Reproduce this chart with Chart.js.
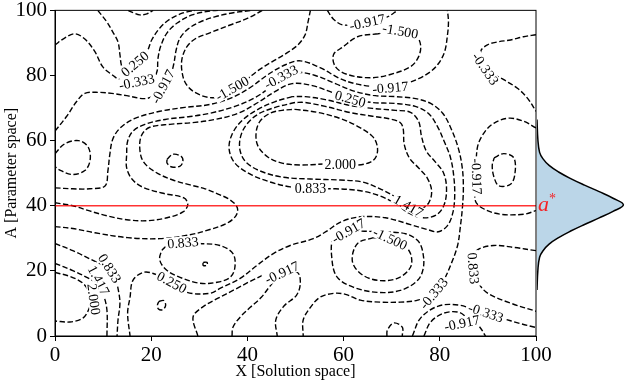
<!DOCTYPE html>
<html>
<head>
<meta charset="utf-8">
<script src="https://cdn.jsdelivr.net/npm/chart.js@4.4.1/dist/chart.umd.min.js"></script>
<style>
  html, body { margin: 0; padding: 0; background: #fff; }
  #wrap { position: relative; width: 626px; height: 382px; }
  #main { position: absolute; left: 0; top: 0; }
  #side { position: absolute; left: 537px; top: 0; }
</style>
</head>
<body>
<div id="wrap">
  <canvas id="main" width="626" height="382"></canvas>
  <canvas id="side" width="89" height="382"></canvas>
</div>
<script>
// contour lines, [X, A] pairs
const c1 = [[8.9,100],[10.8,96.4],[12.0,93.4],[13.1,90.3],[13.5,86.4],[13.9,82.7],[14.9,80.6],[16.6,83.6],[19.1,87.3],[20.1,90.9],[21.8,94.6],[23.9,97.3],[26.6,99.2],[29.1,100]];
const c2 = [[15.2,100],[16.4,99.2],[17.6,98.6],[19.1,98.9],[20.4,100]];
const c3 = [[0,89.4],[2.0,91.5],[4.1,92.8],[6.2,91.2],[8.3,87.3],[9.9,82.7],[11.8,80.3],[13.5,78.7],[17.0,78.1],[20.1,78.7],[21.2,81.2],[21.4,85.1],[22.0,89.1],[23.3,93.1],[25.4,96.1],[28.5,98.6],[32.2,99.8],[33.9,100]];
const c4 = [[0,62.9],[2.4,67.4],[4.5,72.0],[6.2,74.5],[9.3,74.8],[11.8,74.5],[14.9,73.8],[18.9,72.9],[21.2,74.5],[22.4,76.6],[23.9,79.6],[24.7,83.6],[25.2,87.9],[26.0,91.5],[27.7,94.3],[30.1,96.4],[33.2,98.0],[36.8,99.2],[41.0,100]];
const c5 = [[43.1,100],[40.1,97.6],[36.4,95.5],[32.2,93.1],[29.1,91.2],[27.4,88.8],[26.4,85.1],[26.4,81.2],[27.2,77.5],[29.1,74.8],[32.2,73.2],[34.7,73.8],[36.8,76.0],[39.5,78.4],[42.2,81.5],[45.1,84.2],[48.3,87.0],[50.5,89.4],[52.0,92.5],[52.6,96.4],[53.1,100]];
const c6 = [[56.6,100],[57.9,97.3],[59.9,95.5],[64.9,96.1],[69.1,98.0],[71.2,100]];
const c7 = [[67.2,92.8],[62.9,91.9],[59.9,88.8],[57.9,86.4],[58.3,82.7],[60.8,80.3],[65.6,79.3],[69.7,80.3],[73.9,82.7],[75.6,85.8],[76.0,89.4],[74.9,92.5],[71.8,94.0],[68.7,93.4],[67.2,92.8]];
const c9 = [[100,92.5],[97.4,91.9],[94.7,90.9],[92,90.3],[89.9,89.4],[88.5,87.3],[89.5,82.1],[93.3,78.7],[96.2,76],[98.3,72.9],[100,69]];
const c10 = [[100,63.9],[97.5,65.9],[94.4,66.9],[91.3,65.4],[89.2,62.4],[87.8,57.8],[87.6,49],[87.4,41.5],[89.2,39],[92.6,37.4],[97.5,37.4],[100,38.5]];
const c11 = [[91.3,54.7],[93.3,56],[95.4,54.7],[95.6,49.6],[94.7,46.6],[92.3,46.1],[91.3,48.6],[90.9,52.2],[91.3,54.7]];
const c12 = [[49.9,69.6],[54.5,68.7],[59.3,66.8],[62.9,64.4],[66.0,61.3],[67.0,58.3],[66.8,55.2],[65.6,53.4],[62.9,52.5],[59.3,52.8],[55.8,52.8],[51.0,52.5],[47.2,53.1],[44.3,54.9],[42.2,58.3],[41.8,62.3],[42.6,65.9],[44.7,68.4],[47.2,69.3],[49.9,69.6]];
const c13 = [[49.9,71.7],[45.8,70.2],[42.2,68.1],[39.7,64.7],[38.5,60.7],[38.5,56.8],[39.7,53.4],[42.6,50.7],[47.2,48.8],[53.1,48.2],[59.3,47.9],[63.9,47.3],[67.6,45.2],[70.8,42.7],[73.5,40.0],[76.0,39.1],[77.7,40.9],[78.3,44.6],[77.4,48.5],[75.6,51.6],[73.7,54.6],[72.6,58.9],[72.4,63.5],[71.8,65.5],[69.8,66.6],[66.0,67.5],[61.4,68.6],[56.2,70.5],[52.0,71.7],[49.9,71.7]];
const c14 = [[49.3,73.5],[45.8,72.0],[42.2,69.6],[38.9,66.2],[36.8,61.9],[36.2,57.4],[37.4,53.1],[40.6,49.7],[44.7,47.3],[48.9,45.8],[53.1,45.2],[58.3,45.2],[63.5,44.6],[67.6,43.0],[70.8,40.6],[73.5,37.8],[76.4,36.3],[79.3,37.2],[80.9,40.3],[81.4,45.2],[80.8,50.0],[79.1,53.4],[77.2,56.8],[76.2,61.3],[75.6,65.9],[73.9,68.7],[70.8,69.3],[66.0,69.9],[61.4,70.8],[56.2,72.6],[52.0,73.5],[49.3,73.5]];
const b1 = [[0,45.5],[3.7,45.2],[7.2,45.2],[10.4,46.1],[11.0,50.7],[11.4,55.8],[12.0,60.4],[13.5,63.8],[16.6,66.8],[21.8,69.0],[27.0,70.2],[32.2,71.1],[36.8,73.2],[40.6,76.3],[44.3,80.3],[47.9,83.3],[51.0,84.5],[55.1,82.4],[59.3,79.0],[62.4,77.5],[66.0,76.6],[69.7,76.3],[72.9,77.5],[75.6,79.0],[78.1,81.2],[79.7,83.6],[81.0,87.3],[81.6,92.5],[81.8,96.4],[81.6,100]];
const b2 = [[0,40.9],[3.7,40.0],[7.2,38.4],[10.8,36.9],[14.9,35.7],[19.1,35.4],[23.3,36.3],[26.6,38.1],[27.6,40.3],[26.8,42.4],[22.2,43.9],[18.1,45.8],[16.0,48.2],[14.9,51.6],[14.9,55.8],[15.1,59.8],[16.2,62.9],[18.7,65.0],[22.9,66.5],[28.1,67.4],[32.2,68.4],[37.4,70.5],[41.6,73.2],[44.7,76.3],[47.4,79.0],[50.4,80.9],[54.1,80.0],[58.3,77.5],[62.4,75.1],[66.6,73.8],[70.8,73.5],[75.0,72.9],[78.1,71.4],[80.6,68.4],[82.4,63.5],[83.9,57.4],[84.7,51.3],[84.9,45.2],[84.7,39.4],[84.3,33.9],[83.7,27.8],[82.4,22.3],[80.8,17.1],[78.7,13.1],[75.4,11.0],[71.8,10.4],[67.6,10.4],[63.5,11.0],[60.4,12.8],[57.9,13.1],[55.1,11.9],[53.1,8.8],[51.6,4.9],[51.6,0]];
const b3 = [[0,33.6],[3.7,33.0],[8.3,31.7],[15.1,30.2],[21.8,29.9],[28.1,31.1],[32.2,32.7],[35.6,34.5],[37.6,36.9],[37.9,39.4],[36.4,41.8],[33.9,43.6],[31.2,45.2],[28.1,46.4],[24.5,47.9],[20.8,50.4],[18.3,53.7],[17.6,58.3],[18.1,61.9],[19.7,64.1],[23.9,65.0],[29.1,65.6],[33.3,66.5],[38.1,68.4],[42.2,71.7],[45.8,75.1],[49.3,77.5],[53.5,76.9],[57.6,74.8],[61.4,72.9],[66.0,71.7],[70.8,71.4],[74.9,70.5],[77.6,68.4],[79.5,64.4],[80.9,59.8],[82.2,54.9],[82.9,49.1],[83.1,43.0],[82.7,37.8],[81.6,33.9],[79.7,32.0],[77.4,32.7],[73.9,34.2],[68.7,36.3],[63.5,36.6],[59.5,35.1],[56.6,32.3],[53.7,29.9],[48.9,27.8],[45.4,25.3],[42,21.7],[38.5,17.7],[34.3,14.6],[32.2,13.1],[27.4,13.4],[24.3,16.5],[20.4,19.2],[18.3,19.5],[16.2,17.1],[15.6,11.9],[15.1,7],[15.6,0]];
const c17 = [[23.3,27.8],[26.6,28.7],[30.1,28.4],[34.3,27.8],[37,25.3],[37.4,21.1],[36.4,18],[33.7,16.5],[30.1,16.2],[26,18],[23.3,20.1],[21.8,23.2],[22.2,26.2],[23.3,27.8]];
const c18 = [[30.8,22.6],[31.6,22.6],[31.6,21.7],[30.8,21.7],[30.8,22.6]];
const c20 = [[0,28.4],[3.7,26.2],[7.9,23.2],[11,20.8],[12.4,18.5],[13.1,14.6],[13.5,10.1],[13.1,4.9],[12.9,0]];
const c21 = [[0,22.3],[3.7,20.1],[6.6,18.0],[8.9,15.9],[10.1,12.5],[10.8,7.9],[10.8,0]];
const c22 = [[0,19.5],[3.1,18.3],[5.8,16.2],[7.2,13.1],[7.4,11.0],[7.2,8.8],[5.8,5.5],[3.1,4.3],[0,4.6]];
const c23 = [[66.2,30.2],[62.9,28.4],[61.8,23.2],[63.5,19.2],[67,17.1],[71.2,17.7],[73.9,21.1],[73.9,25.3],[71.8,29],[69.7,29.9],[66.2,30.2]];
const c24 = [[61,32.3],[57.9,30.2],[57.6,23.2],[58.7,18],[62,15],[67,13.4],[71.8,14],[75.4,17.1],[76.6,21.1],[76.4,26.2],[75.4,29.3],[72.9,31.4],[67.6,32],[61,32.3]];
const c26 = [[100,26.2],[95.4,27.2],[91.2,27.8],[87.9,26.5],[86.8,23.8],[87.0,20.1],[87.9,16.5],[90.0,13.1],[94.7,10.1],[100,7.6]];
const c27 = [[0,56],[2,59],[4.9,60],[6.9,58],[7.3,54],[6.2,50.8],[3.5,49.6],[0.7,51.2],[0,52]];
const c29 = [[23.3,54.3],[24.5,55.8],[26.2,55.2],[26.6,53.7],[26.0,52.2],[24.3,51.9],[23.3,53.1],[23.3,54.3]];
const c30 = [[36.8,0],[37.0,2.7],[38.5,5.8],[40.6,8.8],[42.9,11.9],[44.7,15.3],[47.2,19.5],[50.4,19.5],[51.0,16.2],[50.2,12.5],[47.6,9.2],[45.9,4.9],[46.2,0]];
const c31 = [[76.7,0],[78.1,4.3],[80.8,7.0],[83.9,7.3],[85.8,5.5],[88.1,3.1],[89.5,0]];
const c32 = [[74.3,0],[76.0,5.5],[79.7,9.2],[83.9,9.5],[88.1,7.6],[92.6,5.6],[96.8,3.8],[100,2.6]];
const c33 = [[69,0],[69.1,1.8],[70.4,4.0],[72.2,2.7],[72.2,0]];
const c34 = [[21.6,10.6],[22.6,10.9],[23.0,9.4],[22.4,8.1],[21.5,8.3],[21.3,9.5],[21.6,10.6]];
const c36 = [[29.7,0],[28.7,5.8],[30.6,8.8],[33.9,11.6],[37.4,14.3],[40.6,16.8],[43.1,18.6]];

// inline contour labels
const labelText = ['0.250','-0.333','-0.917','-1.500','-0.333','-0.917','-1.500','-0.917','0.250','-0.333','2.000','0.833','1.417','-0.917','0.833','0.250','0.833','1.417','2.000','-0.917','-1.500','-0.917','0.833','-0.333','-0.333','-0.917'];
const labelX = [16.6,17.0,22.4,36.8,47.0,64.9,71.8,69.7,61.4,89.5,59.3,53.1,73.5,87.7,26.6,24.3,11.4,9.1,8.1,61.0,69.7,47.2,87.0,78.7,89.6,84.6];
const labelY = [83.6,78.1,76.6,76.0,79.6,96.4,93.7,76.3,72.9,82.1,52.8,45.2,40.0,49.0,28.7,16.5,20.8,17.1,11.3,32.3,29.9,19.5,20.8,13.1,7.2,4.0];
const labelAngle = [-40,-12,-62,-30,-28,-12,10,-5,15,55,0,0,30,88,-5,28,58,62,82,-30,25,-25,85,-50,18,-12];

// the a* reference line and the marginal density
const refA = 40;
const densA = [14, 20, 24, 26, 28, 30, 32, 34, 36, 38, 40, 42, 44, 46, 48, 50, 52, 54, 56, 60, 66];
const densW = [0, 0.01, 0.03, 0.07, 0.14, 0.25, 0.39, 0.55, 0.72, 0.88, 1.0, 0.88, 0.72, 0.55, 0.39, 0.25, 0.14, 0.07, 0.03, 0.01, 0];

const contours = [c1,c2,c3,c4,c5,c6,c7,c9,c10,c11,c12,c13,c14,b1,b2,b3,c17,c18,c20,c21,c22,c23,c24,c26,c27,c29,c30,c31,c32,c33,c34,c36];
const serif = '"Liberation Serif", "DejaVu Serif", serif';

const datasets = contours.map(c => ({
  data: c.map(p => ({x: p[0], y: p[1]})),
  showLine: true,
  pointRadius: 0,
  borderColor: '#000',
  borderWidth: 1.4,
  borderDash: [5.5, 2.5],
  tension: 0.35,
  order: 1
}));
datasets.push({
  data: [{x: 0, y: refA}, {x: 100, y: refA}],
  showLine: true,
  pointRadius: 0,
  borderColor: 'rgba(255,0,0,0.8)',
  borderWidth: 1.5,
  order: 0
});
const refIndex = datasets.length - 1;

const decor = {
  id: 'decor',
  beforeDatasetDraw(chart, args) {
    if (args.index !== refIndex) return;
    const {ctx, scales: {x, y}} = chart;
    ctx.save();
    ctx.font = '14px ' + serif;
    ctx.textAlign = 'center';
    ctx.textBaseline = 'middle';
    labelText.forEach((t, i) => {
      ctx.save();
      ctx.translate(x.getPixelForValue(labelX[i]), y.getPixelForValue(labelY[i]));
      ctx.rotate(labelAngle[i] * Math.PI / 180);
      const w = ctx.measureText(t).width;
      ctx.fillStyle = '#fff';
      ctx.fillRect(-w / 2 - 2, -6, w + 4, 12);
      ctx.fillStyle = '#000';
      ctx.fillText(t, 0, 1);
      ctx.restore();
    });
    ctx.restore();
  },
  afterDraw(chart) {
    const {ctx, chartArea: a} = chart;
    ctx.save();
    ctx.strokeStyle = '#000';
    ctx.lineWidth = 1;
    ctx.strokeRect(a.left, a.top, a.right - a.left, a.bottom - a.top);
    ctx.fillStyle = '#000';
    ctx.font = '16px ' + serif;
    ctx.textAlign = 'center';
    ctx.textBaseline = 'middle';
    ctx.fillText('X [Solution space]', (a.left + a.right) / 2, 372);
    ctx.translate(12, (a.top + a.bottom) / 2);
    ctx.rotate(-Math.PI / 2);
    ctx.fillText('A [Parameter space]', 0, 0);
    ctx.restore();
  }
};

new Chart(document.getElementById('main'), {
  type: 'scatter',
  data: {datasets},
  options: {
    responsive: false,
    animation: false,
    layout: {padding: {left: 0, right: 90, top: 8, bottom: 0}},
    plugins: {legend: {display: false}, tooltip: {enabled: false}},
    scales: {
      x: {
        min: 0, max: 100,
        ticks: {stepSize: 20, color: '#000', padding: 2, font: {family: serif, size: 21}},
        grid: {drawOnChartArea: false, tickLength: 5, color: '#000'},
        border: {color: '#000'},
        afterFit(s) { s.height = 46; }
      },
      y: {
        min: 0, max: 100,
        ticks: {stepSize: 20, color: '#000', padding: 3, font: {family: serif, size: 21, lineHeight: 0.7}},
        grid: {drawOnChartArea: false, tickLength: 5, color: '#000'},
        border: {color: '#000'},
        afterFit(s) { s.width = 55; }
      }
    }
  },
  plugins: [decor]
});

const starLabel = {
  id: 'starLabel',
  afterDraw(chart) {
    const {ctx, scales: {x, y}} = chart;
    const px = x.getPixelForValue(0), py = y.getPixelForValue(refA);
    ctx.save();
    ctx.fillStyle = 'rgba(255,0,0,0.85)';
    ctx.textBaseline = 'alphabetic';
    ctx.font = 'italic 22px ' + serif;
    ctx.fillText('a', px + 1, py + 6);
    ctx.font = '14px ' + serif;
    ctx.fillText('*', px + 12, py - 2);
    ctx.restore();
  }
};

new Chart(document.getElementById('side'), {
  type: 'scatter',
  data: {
    datasets: [{
      data: densA.map((a, i) => ({x: densW[i], y: a})),
      showLine: true,
      pointRadius: 0,
      borderColor: '#000',
      borderWidth: 1.5,
      backgroundColor: 'rgba(31,119,180,0.3)',
      fill: 'shape',
      tension: 0.4
    }]
  },
  options: {
    responsive: false,
    animation: false,
    layout: {padding: {left: 0, right: 0, top: 8, bottom: 46}},
    plugins: {legend: {display: false}, tooltip: {enabled: false}},
    scales: {
      x: {display: false, min: 0, max: 1.03},
      y: {display: false, min: 0, max: 100}
    }
  },
  plugins: [starLabel]
});
</script>
</body>
</html>
